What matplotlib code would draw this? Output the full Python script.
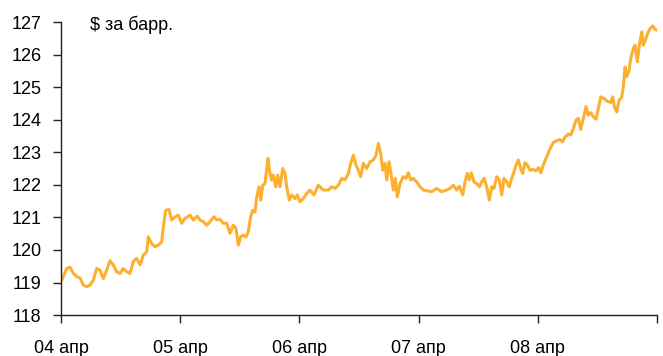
import matplotlib
matplotlib.use('Agg')
import matplotlib.pyplot as plt

plt.rcParams['font.family'] = ['Liberation Sans', 'DejaVu Sans']

# hours since 04 Apr 00:00, price in $ per barrel
hours = [
    0.14, 1.15, 1.81, 2.48, 3.16, 3.83, 4.49, 5.17, 5.84, 6.50,
    7.19, 7.85, 8.52, 9.20, 9.87, 10.53, 11.21, 11.88, 12.54, 13.23,
    13.89, 14.56, 15.24, 15.91, 16.57, 17.25, 17.58, 18.26, 18.93, 19.59,
    20.27, 20.60, 21.08, 21.74, 22.29, 22.95, 23.62, 24.30, 24.97, 25.97,
    26.64, 27.44, 27.99, 28.65, 29.34, 30.00, 30.81, 31.35, 32.01, 32.68,
    33.36, 34.03, 34.69, 35.23, 35.70, 36.18, 36.70, 37.25, 37.71, 38.19,
    38.60, 39.06, 39.40, 39.87, 40.21, 40.61, 41.07, 41.42, 41.68, 42.08,
    42.43, 42.74, 43.23, 43.63, 44.09, 44.64, 45.10, 45.44, 45.97, 46.45,
    47.11, 47.58, 48.12, 48.78, 49.47, 50.13, 50.94, 51.80, 52.81, 53.82,
    54.50, 55.17, 55.83, 56.52, 57.18, 57.85, 58.33, 58.85, 59.40, 59.86,
    60.34, 60.86, 61.55, 62.21, 62.88, 63.42, 63.89, 64.37, 64.77, 65.23,
    65.58, 66.04, 66.44, 66.91, 67.31, 67.71, 68.25, 68.92, 69.46, 69.93,
    70.41, 70.93, 71.62, 72.28, 72.95, 73.63, 74.64, 75.64, 76.65, 77.66,
    78.32, 78.98, 79.67, 80.19, 80.88, 81.34, 81.80, 82.21, 82.61, 83.15,
    83.70, 84.22, 84.70, 85.17, 85.71, 86.23, 86.72, 87.18, 87.72, 88.25,
    88.73, 89.19, 89.74, 90.26, 90.74, 91.21, 91.61, 92.07, 92.56, 92.96,
    93.42, 93.89, 94.43, 95.09, 95.64, 96.18, 96.58, 97.11, 97.79, 98.46,
    99.12, 99.81, 100.47, 101.01, 101.48, 102.14, 102.63, 103.15, 103.69, 104.15,
    104.64, 105.16, 105.70, 106.17, 106.65, 107.17, 107.72, 108.18, 108.66, 109.33,
    109.99, 110.68, 111.08, 111.40, 111.89, 112.35, 112.89, 113.22, 113.56, 113.90,
    114.36, 114.77, 115.23, 115.57, 116.03, 116.44, 116.92, 117.24, 117.65, 118.13,
    118.59, 119.14, 119.60, 120.00,
]
price = [
    119.07, 119.43, 119.47, 119.28, 119.18, 119.14, 118.92, 118.87, 118.92, 119.07,
    119.43, 119.38, 119.12, 119.38, 119.67, 119.54, 119.33, 119.28, 119.43, 119.33,
    119.28, 119.64, 119.74, 119.54, 119.84, 119.94, 120.40, 120.20, 120.10, 120.15,
    120.25, 120.71, 121.22, 121.24, 120.92, 121.02, 121.07, 120.82, 120.97, 121.07,
    120.92, 121.04, 120.92, 120.87, 120.76, 120.87, 121.02, 120.92, 120.94, 120.82,
    120.82, 120.51, 120.76, 120.66, 120.15, 120.40, 120.46, 120.40, 120.56, 121.02,
    121.22, 121.17, 121.63, 121.94, 121.53, 121.99, 122.04, 122.50, 122.81, 122.35,
    122.15, 122.30, 121.94, 122.30, 121.94, 122.50, 122.35, 121.94, 121.53, 121.69,
    121.58, 121.69, 121.48, 121.58, 121.74, 121.84, 121.69, 121.99, 121.84, 121.84,
    121.94, 121.89, 121.99, 122.20, 122.15, 122.35, 122.66, 122.91, 122.61, 122.45,
    122.25, 122.66, 122.50, 122.71, 122.76, 122.91, 123.27, 122.96, 122.45, 122.66,
    122.15, 122.71, 122.35, 121.84, 122.20, 121.63, 122.04, 122.25, 122.20, 122.37,
    122.15, 122.20, 122.09, 121.94, 121.84, 121.82, 121.79, 121.89, 121.79, 121.84,
    121.89, 121.99, 121.84, 121.96, 121.69, 122.09, 122.35, 122.15, 122.37, 122.09,
    122.04, 121.94, 122.09, 122.20, 121.94, 121.53, 121.94, 121.89, 122.25, 122.15,
    121.69, 122.20, 122.09, 121.94, 122.20, 122.40, 122.61, 122.76, 122.50, 122.35,
    122.68, 122.61, 122.45, 122.47, 122.43, 122.53, 122.37, 122.61, 122.86, 123.11,
    123.30, 123.36, 123.39, 123.32, 123.47, 123.56, 123.53, 123.73, 123.99, 124.04,
    123.70, 124.04, 124.40, 124.14, 124.22, 124.09, 124.02, 124.34, 124.70, 124.65,
    124.57, 124.53, 124.70, 124.40, 124.24, 124.59, 124.70, 125.01, 125.62, 125.32,
    125.52, 125.93, 126.19, 126.29, 125.78, 126.29, 126.70, 126.29, 126.45, 126.65,
    126.80, 126.88, 126.78, 126.75,
]

day_ticks = [0, 24, 48, 72, 96, 120]
day_labels = ['04 апр', '05 апр', '06 апр', '07 апр', '08 апр', '']
y_ticks = list(range(118, 128))

fig = plt.figure(figsize=(6.63, 3.56), dpi=100)
ax = fig.add_axes([0.092, 0.115, 0.899, 0.823])

ax.plot(hours, price, color='#FDB02F', lw=2.2, solid_joinstyle='round')

ax.set_xlim(0, 120)
ax.set_ylim(118, 127)
ax.set_xticks(day_ticks, day_labels)
ax.set_yticks(y_ticks)

for side in ['top', 'right']:
    ax.spines[side].set_visible(False)
for side in ['left', 'bottom']:
    ax.spines[side].set_color('#222222')
    ax.spines[side].set_linewidth(1.0)

ax.tick_params(axis='y', direction='out', length=6, width=1, pad=8,
               labelsize=13, color='#222222')
ax.tick_params(axis='x', direction='out', length=6, width=1, pad=12,
               labelsize=13, color='#222222')

ax.text(0.049, 0.99, '$ за барр.', transform=ax.transAxes,
        ha='left', va='center', fontsize=13)

fig.savefig('out.png', dpi=100)
plt.close()
